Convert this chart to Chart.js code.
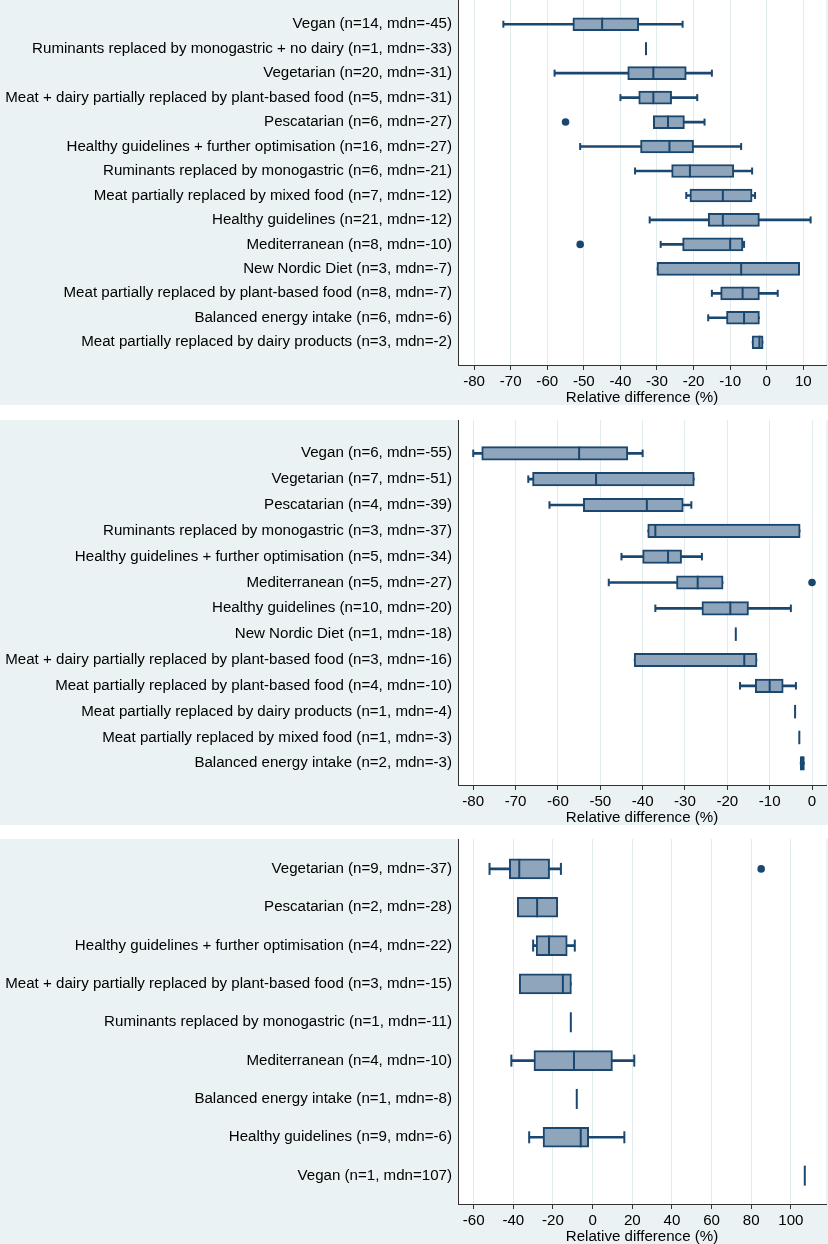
<!DOCTYPE html>
<html>
<head>
<meta charset="utf-8">
<script src="https://cdn.jsdelivr.net/npm/chart.js@4.4.1/dist/chart.umd.min.js"></script>
<style>
  body { margin: 0; background: #fff; }
  .panel { position: absolute; left: 0; width: 828px; height: 405px; background: #eaf2f3; }
  canvas { display: block; }
</style>
</head>
<body>
<div class="panel" style="top:0"><canvas id="c1" width="828" height="405"></canvas></div>
<div class="panel" style="top:420px"><canvas id="c2" width="828" height="405"></canvas></div>
<div class="panel" style="top:839px"><canvas id="c3" width="828" height="405"></canvas></div>
<script>
// Panel 1
const p1Labels = [
  "Vegan (n=14, mdn=-45)",
  "Ruminants replaced by monogastric + no dairy (n=1, mdn=-33)",
  "Vegetarian (n=20, mdn=-31)",
  "Meat + dairy partially replaced by plant-based food (n=5, mdn=-31)",
  "Pescatarian (n=6, mdn=-27)",
  "Healthy guidelines + further optimisation (n=16, mdn=-27)",
  "Ruminants replaced by monogastric (n=6, mdn=-21)",
  "Meat partially replaced by mixed food (n=7, mdn=-12)",
  "Healthy guidelines (n=21, mdn=-12)",
  "Mediterranean (n=8, mdn=-10)",
  "New Nordic Diet (n=3, mdn=-7)",
  "Meat partially replaced by plant-based food (n=8, mdn=-7)",
  "Balanced energy intake (n=6, mdn=-6)",
  "Meat partially replaced by dairy products (n=3, mdn=-2)"
];
const p1Low     = [-72, -33, -58, -40, -31,   -51,   -36, -22,  -32, -29,   -30, -15,   -16,  -4];
const p1Q1      = [-53, -33, -38, -35, -31,   -34.5, -26, -21,  -16, -23,   -30, -12.6, -11,  -4];
const p1Median  = [-45, -33, -31, -31, -27,   -26.6, -21, -12,  -12, -10,    -7,  -6.6,  -6.2, -2];
const p1Q3      = [-35, -33, -22, -26, -22.5, -20,    -9,  -4,   -2,  -6.5,   9,  -2,    -2,   -1];
const p1High    = [-23, -33, -15, -19, -17,    -7,    -4,  -3.2, 12,  -6.2,   9,   3,    -2,   -1];
const p1Outlier = [null, null, null, null, -55, null, null, null, null, -51, null, null, null, null];
const p1Ticks = [-80, -70, -60, -50, -40, -30, -20, -10, 0, 10];

// Panel 2
const p2Labels = [
  "Vegan (n=6, mdn=-55)",
  "Vegetarian (n=7, mdn=-51)",
  "Pescatarian (n=4, mdn=-39)",
  "Ruminants replaced by monogastric (n=3, mdn=-37)",
  "Healthy guidelines + further optimisation (n=5, mdn=-34)",
  "Mediterranean (n=5, mdn=-27)",
  "Healthy guidelines (n=10, mdn=-20)",
  "New Nordic Diet (n=1, mdn=-18)",
  "Meat + dairy partially replaced by plant-based food (n=3, mdn=-16)",
  "Meat partially replaced by plant-based food (n=4, mdn=-10)",
  "Meat partially replaced by dairy products (n=1, mdn=-4)",
  "Meat partially replaced by mixed food (n=1, mdn=-3)",
  "Balanced energy intake (n=2, mdn=-3)"
];
const p2Low     = [-80,   -67,   -62,   -38.8, -45,   -48, -37,   -18, -42, -17,   -4, -3, -2.8];
const p2Q1      = [-78,   -66,   -54,   -38.8, -40,   -32, -26,   -18, -42, -13.4, -4, -3, -2.8];
const p2Median  = [-55,   -51,   -39,   -37,   -34,   -27, -19.3, -18, -16, -10,   -4, -3, -2.3];
const p2Q3      = [-43.5, -27.8, -30.4,  -2.8, -30.8, -21, -15,   -18, -13,  -6.8, -4, -3, -1.8];
const p2High    = [-40,   -27.8, -28.5,  -2.8, -26,   -21,  -5,   -18, -13,  -3.8, -4, -3, -1.8];
const p2Outlier = [null, null, null, null, null, 0, null, null, null, null, null, null, null];
const p2Ticks = [-80, -70, -60, -50, -40, -30, -20, -10, 0];

// Panel 3
const p3Labels = [
  "Vegetarian (n=9, mdn=-37)",
  "Pescatarian (n=2, mdn=-28)",
  "Healthy guidelines + further optimisation (n=4, mdn=-22)",
  "Meat + dairy partially replaced by plant-based food (n=3, mdn=-15)",
  "Ruminants replaced by monogastric (n=1, mdn=-11)",
  "Mediterranean (n=4, mdn=-10)",
  "Balanced energy intake (n=1, mdn=-8)",
  "Healthy guidelines (n=9, mdn=-6)",
  "Vegan (n=1, mdn=107)"
];
const p3Low     = [-52,   -38,   -30,   -37,   -11, -41,   -8, -32, 107];
const p3Q1      = [-42,   -38,   -28.5, -37,   -11, -29.6, -8, -25, 107];
const p3Median  = [-37,   -28,   -22,   -15,   -11,  -9.4, -8,  -6, 107];
const p3Q3      = [-21.7, -17.6, -12.8, -10.7, -11,  10,   -8,  -2, 107];
const p3High    = [-16,   -17.6,  -9,   -10.7, -11,  21,   -8,  16, 107];
const p3Outlier = [85, null, null, null, null, null, null, null, null];
const p3Ticks = [-60, -40, -20, 0, 20, 40, 60, 80, 100];

const NAVY = "#1a476f";
const BOX_FILL = "#8fa5bb";

Chart.defaults.font.family = "'Liberation Sans', Arial, sans-serif";
Chart.defaults.font.size = 15.1;
Chart.defaults.color = "#000";

// white plot region on the bluish graph region
const plotBg = {
  id: "plotBg",
  beforeDraw(chart) {
    const { ctx, chartArea: a } = chart;
    ctx.save();
    ctx.fillStyle = "#fff";
    ctx.fillRect(a.left, a.top, a.right - a.left, a.bottom - a.top);
    ctx.restore();
  }
};

function boxChart(id, labels, low, q1, med, q3, high, outlier, ticks, view) {
  const rows = labels.map((_, i) => i);
  const boxes = rows.filter(i => q3[i] > q1[i]).map(i => ({ x: [q1[i], q3[i]], y: i }));
  const whiskers = rows.filter(i => high[i] > low[i]).map(i => ({ x: [low[i], high[i]], y: i }));
  const caps = [];
  rows.forEach(i => {
    if (low[i] < q1[i]) caps.push({ x: low[i], y: i });
    if (high[i] > q3[i]) caps.push({ x: high[i], y: i });
  });
  const medians = rows.map(i => ({ x: med[i], y: i }));
  const outs = rows.filter(i => outlier[i] !== null).map(i => ({ x: outlier[i], y: i }));

  new Chart(document.getElementById(id), {
    type: "bar",
    data: {
      datasets: [
        { type: "scatter", data: outs, order: 1, pointStyle: "circle", pointRadius: 3.8,
          pointBackgroundColor: NAVY, pointBorderWidth: 0 },
        { type: "scatter", data: medians, order: 2, pointStyle: "line", rotation: 90,
          pointRadius: view.box / 2, pointBorderColor: NAVY, pointBorderWidth: 2 },
        { type: "scatter", data: caps, order: 3, pointStyle: "line", rotation: 90,
          pointRadius: view.cap / 2, pointBorderColor: NAVY, pointBorderWidth: 2 },
        { type: "bar", data: boxes, order: 4, indexAxis: "y", grouped: false,
          barThickness: view.box, backgroundColor: BOX_FILL, borderColor: NAVY,
          borderWidth: 2, borderSkipped: false },
        { type: "bar", data: whiskers, order: 5, indexAxis: "y", grouped: false,
          barThickness: 2, backgroundColor: NAVY, borderWidth: 0 }
      ]
    },
    options: {
      indexAxis: "y",
      responsive: false,
      animation: false,
      events: [],
      layout: { autoPadding: false, padding: { top: 0, right: 2, bottom: 0, left: 0 } },
      plugins: { legend: { display: false }, tooltip: { enabled: false } },
      scales: {
        x: {
          type: "linear",
          position: "bottom",
          min: view.xMin,
          max: view.xMax,
          afterBuildTicks: s => { s.ticks = ticks.map(v => ({ value: v })); },
          afterFit: s => { s.height = 40; s.paddingLeft = 0; s.paddingRight = 0; },
          ticks: { autoSkip: false, maxRotation: 0, padding: 3, callback: v => String(v) },
          grid: { color: "#e2ecef", lineWidth: 1, tickLength: 5, tickColor: "#333" },
          border: { color: "#333", width: 1 },
          title: { display: true, text: "Relative difference (%)",
                   font: { size: 15.1, lineHeight: 1 }, padding: { top: 0, bottom: 0 } }
        },
        y: {
          type: "linear",
          reverse: true,
          offset: false,
          min: view.yMin,
          max: view.yMax,
          afterBuildTicks: s => { s.ticks = rows.map(i => ({ value: i })); },
          afterFit: s => { s.width = 458; s.paddingTop = 0; s.paddingBottom = 0; },
          ticks: { autoSkip: false, padding: 6, callback: v => labels[v] },
          grid: { display: false, drawTicks: false, offset: false },
          border: { color: "#333", width: 1 }
        }
      }
    },
    plugins: [plotBg]
  });
}

boxChart("c1", p1Labels, p1Low, p1Q1, p1Median, p1Q3, p1High, p1Outlier, p1Ticks,
  { xMin: -84.4, xMax: 16.2, yMin: -0.99, yMax: 13.93, box: 13, cap: 7 });
boxChart("c2", p2Labels, p2Low, p2Q1, p2Median, p2Q3, p2High, p2Outlier, p2Ticks,
  { xMin: -83.6, xMax: 3.3, yMin: -1.29, yMax: 12.84, box: 13.5, cap: 7.5 });
boxChart("c3", p3Labels, p3Low, p3Q1, p3Median, p3Q3, p3High, p3Outlier, p3Ticks,
  { xMin: -67.9, xMax: 117.7, yMin: -0.78, yMax: 8.74, box: 20, cap: 12 });
</script>
</body>
</html>
